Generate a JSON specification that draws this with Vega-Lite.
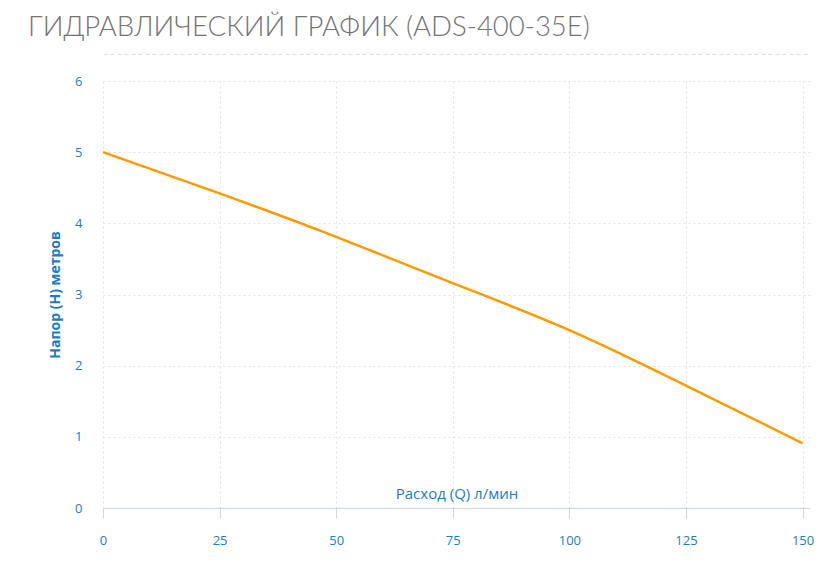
{
  "$schema": "https://vega.github.io/schema/vega-lite/v6.json",
  "autosize": "none",
  "width": 707,
  "height": 427,
  "padding": {"left": 103, "top": 81, "right": 22, "bottom": 73},
  "background": "white",
  "config": {
    "view": {"stroke": null},
    "font": "Open Sans",
    "axis": {
      "labelFont": "Open Sans",
      "labelFontSize": 13,
      "labelColor": "#1a7dc4",
      "titleFont": "Open Sans",
      "titleColor": "#1a7dc4",
      "titleFontSize": 14,
      "gridColor": "#e3e3e3",
      "gridDash": [2, 3],
      "gridWidth": 1
    }
  },
  "title": {
    "text": "ГИДРАВЛИЧЕСКИЙ ГРАФИК (ADS-400-35E)",
    "anchor": "start",
    "frame": "group",
    "dx": -75,
    "offset": 13,
    "font": "Lato",
    "fontWeight": 300,
    "fontSize": 27.5,
    "color": "#747474"
  },
  "data": {
    "values": [
      {"q": 0, "h": 5.0},
      {"q": 25, "h": 4.42},
      {"q": 50, "h": 3.81},
      {"q": 75, "h": 3.16},
      {"q": 100, "h": 2.5},
      {"q": 125, "h": 1.72},
      {"q": 150, "h": 0.91}
    ]
  },
  "layer": [
    {
      "mark": {"type": "line", "opacity": 0},
      "encoding": {
        "x": {
          "field": "q",
          "type": "quantitative",
          "scale": {"domain": [0, 151.6], "nice": false},
          "axis": {
            "orient": "top",
            "offset": 27,
            "labels": false,
            "ticks": false,
            "grid": false,
            "title": null,
            "domainColor": "#e0e0e0",
            "domainDash": [4, 3],
            "domainWidth": 1
          }
        },
        "y": {"field": "h", "type": "quantitative", "scale": {"domain": [0, 6], "nice": false}, "axis": null}
      }
    },
    {
      "mark": {"type": "line", "color": "#ff9900", "strokeWidth": 2.5, "interpolate": "natural"},
      "encoding": {
        "x": {
          "field": "q",
          "type": "quantitative",
          "scale": {"domain": [0, 151.6], "nice": false},
          "axis": {
            "orient": "bottom",
            "values": [0, 25, 50, 75, 100, 125, 150],
            "title": "Расход (Q) л/мин",
            "titleFontWeight": "normal",
            "titleFontSize": 15,
            "titleY": -10,
            "titleBaseline": "alphabetic",
            "domainColor": "#ccd6eb",
            "tickColor": "#ccd6eb",
            "tickSize": 10,
            "labelPadding": 16,
            "labelFlush": false,
            "grid": true
          }
        },
        "y": {
          "field": "h",
          "type": "quantitative",
          "scale": {"domain": [0, 6], "nice": false},
          "axis": {
            "values": [0, 1, 2, 3, 4, 5, 6],
            "title": "Напор (Н) метров",
            "titleFontWeight": "bold",
            "titlePadding": 12,
            "domain": false,
            "ticks": false,
            "labelPadding": 21,
            "grid": true
          }
        }
      }
    }
  ],
  "resolve": {"axis": {"x": "independent", "y": "independent"}}
}
